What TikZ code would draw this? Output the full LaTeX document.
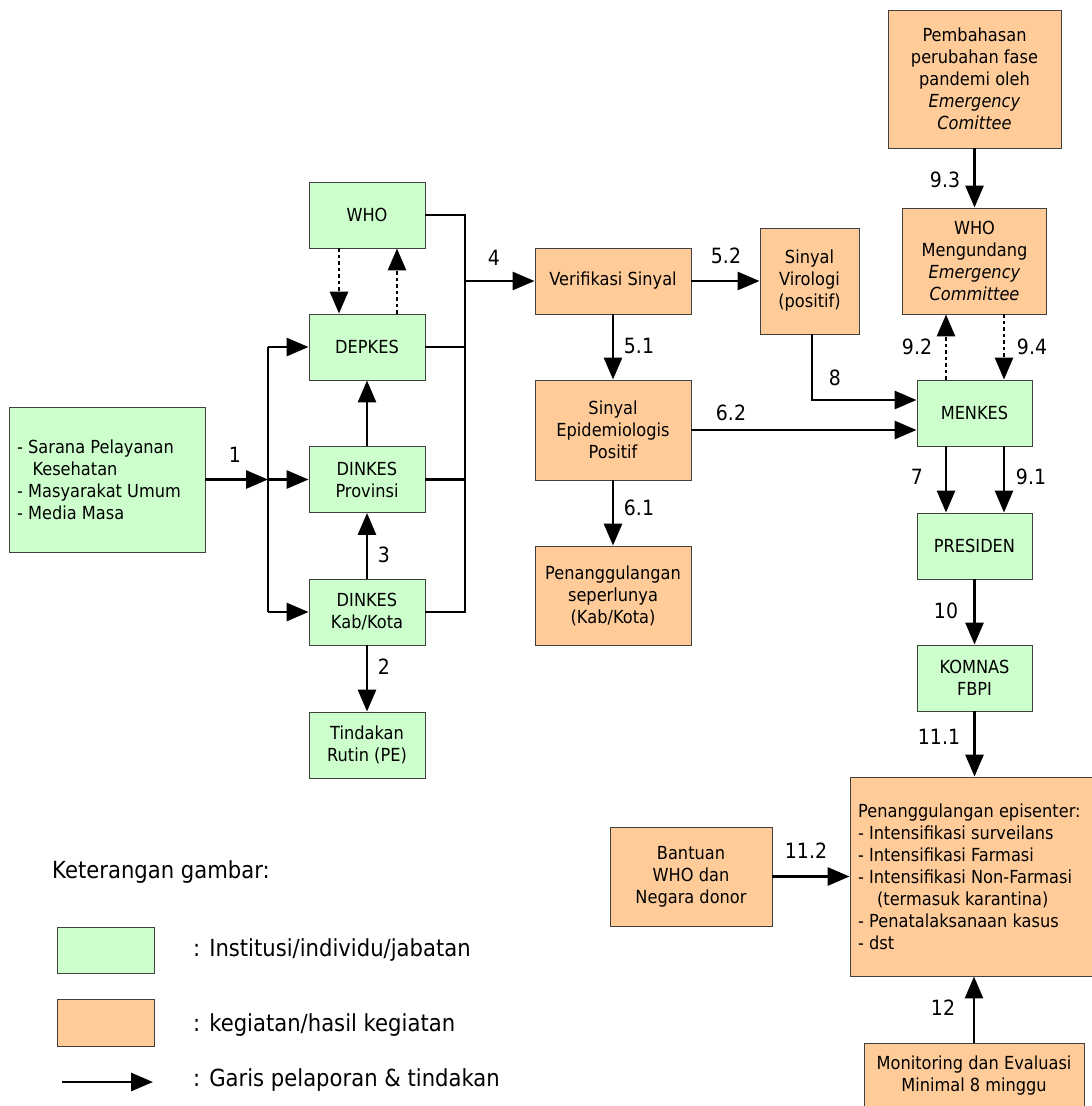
\documentclass[tikz,border=0pt]{standalone}
\usepackage{fontspec}
\setmainfont{DejaVu Sans}[FakeStretch=0.9]
\usetikzlibrary{arrows.meta,calc}
\definecolor{instcol}{HTML}{CCFFCC}
\definecolor{actcol}{HTML}{FFCC99}
\definecolor{edgecol}{HTML}{404040}
\begin{document}
\begin{tikzpicture}[x=1pt,y=-1pt,
 box/.style={rectangle, draw=edgecol, line width=0.9pt, inner sep=0pt, align=center, font=\fontsize{18}{22}\selectfont},
 inst/.style={box, fill=instcol},
 act/.style={box, fill=actcol},
 sz/.style 2 args={minimum width=#1pt, minimum height=#2pt},
 conn/.style={line width=2.9pt},
 arr/.style={conn, -{Triangle[length=22pt,width=18pt]}},
 darr/.style={arr, dash pattern=on 3.5pt off 3pt},
 lbl/.style={font=\fontsize{21}{25}\selectfont, inner sep=0pt},
 txt/.style={font=\fontsize{18}{22}\selectfont, align=left, inner sep=0pt, anchor=west},
]
\useasboundingbox (0,0) rectangle (1092,1106);
\fill[white] (0,0) rectangle (1092,1106);

% left part
\node[inst, sz={196}{145}] (src) at (107,479.5) {};
\node[txt] (srctext) at (17,479.5) {- Sarana Pelayanan\\\hspace*{0.85em}Kesehatan\\- Masyarakat Umum\\- Media Masa};
\node[inst, sz={116}{66}] (who) at (367,215) {WHO};
\node[inst, sz={116}{66}] (depkes) at (367,347) {DEPKES};
\node[inst, sz={116}{66}] (prov) at (367,479.5) {DINKES\\Provinsi};
\node[inst, sz={116}{66}] (kab) at (367,612) {DINKES\\Kab/Kota};
\node[inst, sz={116}{66}] (tind) at (367,745) {Tindakan\\Rutin (PE)};

% middle
\node[act, sz={156}{66}] (verif) at (613,281) {Verifikasi Sinyal};
\node[act, sz={99}{106}] (viro) at (809.5,281) {Sinyal\\Virologi\\(positif)};
\node[act, sz={156}{100}] (epid) at (613,430) {Sinyal\\Epidemiologis\\Positif};
\node[act, sz={156}{99}] (pen) at (613,595.5) {Penanggulangan\\seperlunya\\(Kab/Kota)};

% right column
\node[act, sz={173}{138}] (pemb) at (974.5,79) {Pembahasan\\perubahan fase\\pandemi oleh\\\textit{Emergency}\\\textit{Comittee}};
\node[act, sz={144}{106}] (whoe) at (974.5,261) {WHO\\Mengundang\\\textit{Emergency}\\\textit{Committee}};
\node[inst, sz={115}{66}] (menkes) at (974.5,413) {MENKES};
\node[inst, sz={115}{66}] (pres) at (974.5,546) {PRESIDEN};
\node[inst, sz={115}{66}] (komnas) at (974.5,678) {KOMNAS\\FBPI};
\node[act, sz={246}{199}] (epis) at (973,876.5) {};
\node[txt] (epistext) at (858,876.5) {Penanggulangan episenter:\\- Intensifikasi surveilans\\- Intensifikasi Farmasi\\- Intensifikasi Non-Farmasi\\\hspace*{1.05em}(termasuk karantina)\\- Penatalaksanaan kasus\\- dst};
\node[act, sz={162}{99}] (bant) at (691,876.5) {Bantuan\\WHO dan\\Negara donor};
\node[act, sz={220}{66}] (mon) at (974,1076) {Monitoring dan Evaluasi\\Minimal 8 minggu};

% connectors left
\coordinate (bl) at (268,479.5);
\coordinate (br) at (465,281);
\draw[arr] (src.east) -- (bl);
\draw[conn] (bl |- depkes) -- (bl |- kab);
\draw[arr] (bl |- depkes) -- (depkes.west);
\draw[arr] (bl) -- (prov.west);
\draw[arr] (bl |- kab) -- (kab.west);
\draw[conn] (who.east) -- (who.east -| br) -- (kab.east -| br) -- (kab.east);
\draw[conn] (depkes.east) -- (depkes.east -| br);
\draw[conn] (prov.east) -- (prov.east -| br);
\draw[arr] (br) -- (verif.west);
\draw[darr] ([xshift=-28pt]who.south) -- ([xshift=-28pt]depkes.north);
\draw[darr] ([xshift=30pt]depkes.north) -- ([xshift=30pt]who.south);
\draw[arr] (prov.north) -- (depkes.south);
\draw[arr] (kab.north) -- (prov.south);
\draw[arr] (kab.south) -- (tind.north);

% middle connectors
\draw[arr] (verif.east) -- (viro.west);
\draw[arr] (verif.south) -- (epid.north);
\draw[arr] (epid.south) -- (pen.north);
\draw[arr] (epid.east) -- (epid.east -| menkes.west);
\draw[arr] ([xshift=2.5pt]viro.south) |- ([yshift=13pt]menkes.west);

% right connectors
\draw[arr] (pemb.south) -- (whoe.north);
\draw[darr] ([xshift=-28.5pt]menkes.north) -- ([xshift=-28.5pt]menkes.north |- whoe.south);
\draw[darr] ([xshift=29.5pt]menkes.north |- whoe.south) -- ([xshift=29.5pt]menkes.north);
\draw[arr] ([xshift=-28.5pt]menkes.south) -- ([xshift=-28.5pt]pres.north);
\draw[arr] ([xshift=29.5pt]menkes.south) -- ([xshift=29.5pt]pres.north);
\draw[arr] (pres.south) -- (komnas.north);
\draw[arr] (komnas.south) -- (komnas.south |- epis.north);
\draw[arr] (bant.east) -- (epis.west);
\draw[arr] (mon.north) -- (mon.north |- epis.south);

% labels
\node[lbl] (l1) at (235,455) {1};
\node[lbl] (l2) at (384,667) {2};
\node[lbl] (l3) at (384,555) {3};
\node[lbl] (l4) at (494,258) {4};
\node[lbl] (l51) at (639,346) {5.1};
\node[lbl] (l52) at (726,256) {5.2};
\node[lbl] (l61) at (639,508) {6.1};
\node[lbl] (l62) at (731,413) {6.2};
\node[lbl] (l7) at (917,477) {7};
\node[lbl] (l8) at (835,378) {8};
\node[lbl] (l91) at (1031,477) {9.1};
\node[lbl] (l92) at (917,347) {9.2};
\node[lbl] (l93) at (945,180) {9.3};
\node[lbl] (l94) at (1032,347) {9.4};
\node[lbl] (l10) at (946,611) {10};
\node[lbl] (l111) at (939,737) {11.1};
\node[lbl] (l112) at (806,851) {11.2};
\node[lbl] (l12) at (943,1008) {12};

% legend
\node[txt, font=\fontsize{23.5}{28}\selectfont] (legtitle) at (52,872) {Keterangan gambar:};
\node[inst, sz={97}{46}] (leginst) at (105.5,950) {};
\node[act, sz={97}{47}] (legact) at (105.5,1022.5) {};
\coordinate (la) at (62,1082);
\coordinate (lb) at (153,1082);
\draw[arr] (la) -- (lb);
\node[txt, font=\fontsize{23.5}{27}\selectfont] (legt1) at (193,950) {: Institusi/individu/jabatan};
\node[txt, font=\fontsize{23.5}{27}\selectfont] (legt2) at (193,1025) {: kegiatan/hasil kegiatan};
\node[txt, font=\fontsize{23.5}{27}\selectfont] (legt3) at (193,1080) {: Garis pelaporan \& tindakan};
\end{tikzpicture}
\end{document}
